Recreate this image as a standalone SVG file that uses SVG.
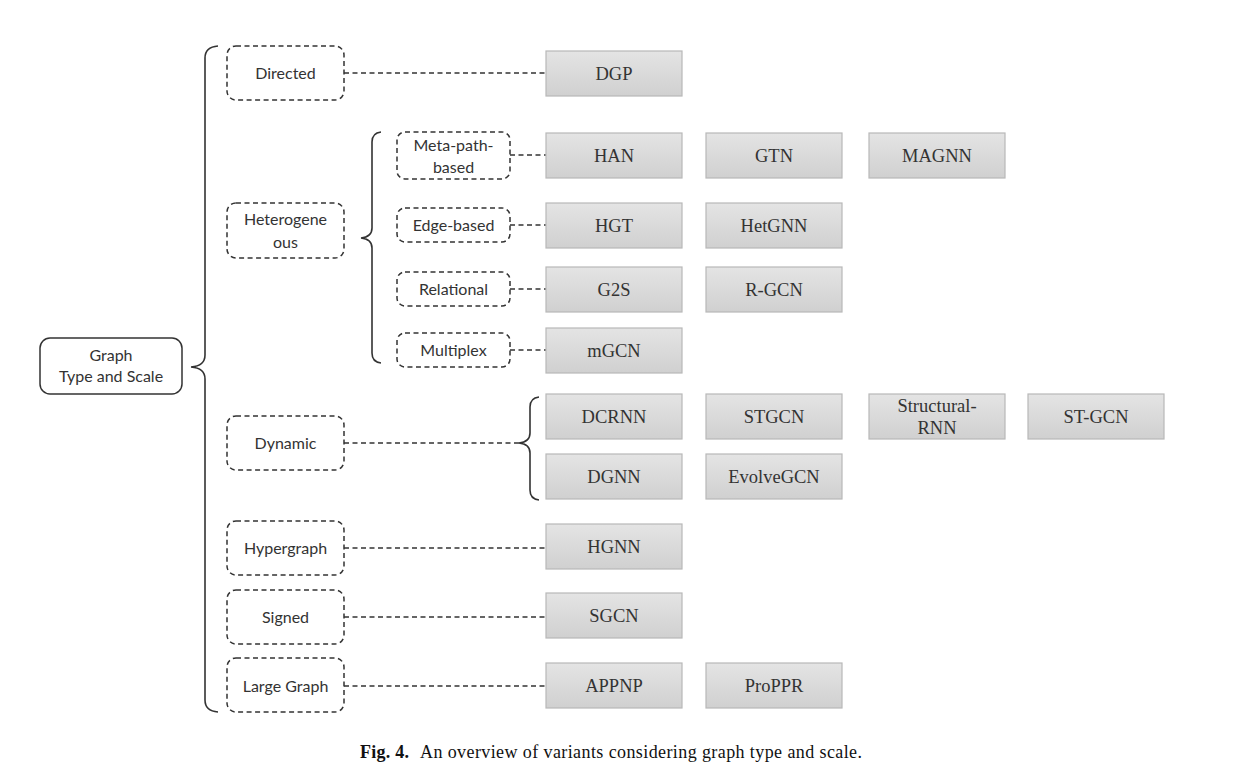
<svg xmlns="http://www.w3.org/2000/svg" width="1251" height="782" viewBox="0 0 1251 782">
<defs>
<linearGradient id="g" x1="0" y1="0" x2="0" y2="1">
<stop offset="0" stop-color="#e4e4e4"/>
<stop offset="1" stop-color="#d0d0d0"/>
</linearGradient>
<style>
.cat{fill:#fff;stroke:#333;stroke-width:1.5;stroke-dasharray:5,3.5}
.box{fill:url(#g);stroke:#b8b8b8;stroke-width:1.2}
.t1{font-family:Lato,"Open Sans","Liberation Sans",sans-serif;font-size:16px;fill:#333;text-anchor:middle}
.t2{font-family:"Liberation Serif",serif;font-size:18.5px;fill:#333;text-anchor:middle}
.conn{fill:none;stroke:#333;stroke-width:1.5;stroke-dasharray:5,3.5}
.brace{fill:none;stroke:#333;stroke-width:1.6}
.cap{font-family:"Liberation Serif",serif;font-size:18px;fill:#111}
</style>
</defs>
<rect width="1251" height="782" fill="#fff"/>

<g id="root">
<rect x="40" y="338" width="142" height="56" rx="10" fill="#fff" stroke="#333" stroke-width="1.5"/>
<text class="t1" x="111" y="361">Graph</text>
<text class="t1" x="111" y="382">Type and Scale</text>
</g>

<g id="braces">
<path class="brace" d="M218,46 Q205,47 205,58 L205,355 Q205,366 191,367 Q205,368 205,379 L205,700 Q205,711 218,712"/>
<path class="brace" d="M381,132 Q372,133 372,142 L372,228 Q372,237 361,238 Q372,239 372,248 L372,353 Q372,362 381,363"/>
<path class="brace" d="M539,397 Q530,398 530,407 L530,433 Q530,442 519,443 Q530,444 530,453 L530,490 Q530,499 539,500"/>
</g>

<g id="connectors">
<path class="conn" d="M344,73 H546"/>
<path class="conn" d="M510,155 H546"/>
<path class="conn" d="M510,225 H546"/>
<path class="conn" d="M510,289 H546"/>
<path class="conn" d="M510,350 H546"/>
<path class="conn" d="M344,443 H519"/>
<path class="conn" d="M344,548 H546"/>
<path class="conn" d="M344,617 H546"/>
<path class="conn" d="M344,686 H546"/>
</g>

<g id="directed"><rect class="cat" x="227" y="46" width="117" height="54" rx="9"/><text class="t1" x="285.5" y="79">Directed</text></g>
<g id="heterogeneous"><rect class="cat" x="227" y="203" width="117" height="55" rx="9"/><text class="t1" x="285.5" y="225">Heterogene</text><text class="t1" x="285.5" y="248">ous</text></g>
<g id="dynamic"><rect class="cat" x="227" y="416" width="117" height="54" rx="9"/><text class="t1" x="285.5" y="449">Dynamic</text></g>
<g id="hypergraph"><rect class="cat" x="227" y="521" width="117" height="54" rx="9"/><text class="t1" x="285.5" y="554">Hypergraph</text></g>
<g id="signed"><rect class="cat" x="227" y="590" width="117" height="54" rx="9"/><text class="t1" x="285.5" y="623">Signed</text></g>
<g id="large"><rect class="cat" x="227" y="658" width="117" height="54" rx="9"/><text class="t1" x="285.5" y="692">Large Graph</text></g>

<g id="metapath"><rect class="cat" x="397" y="132" width="113" height="47" rx="8"/><text class="t1" x="453.5" y="151">Meta-path-</text><text class="t1" x="453.5" y="173">based</text></g>
<g id="edgebased"><rect class="cat" x="397" y="208" width="113" height="34" rx="8"/><text class="t1" x="453.5" y="231">Edge-based</text></g>
<g id="relational"><rect class="cat" x="397" y="272" width="113" height="34" rx="8"/><text class="t1" x="453.5" y="295">Relational</text></g>
<g id="multiplex"><rect class="cat" x="397" y="333" width="113" height="34" rx="8"/><text class="t1" x="453.5" y="356">Multiplex</text></g>

<g id="DGP"><rect class="box" x="546" y="51" width="136" height="45"/><text class="t2" x="614" y="80">DGP</text></g>
<g id="HAN"><rect class="box" x="546" y="133" width="136" height="45"/><text class="t2" x="614" y="162">HAN</text></g>
<g id="GTN"><rect class="box" x="706" y="133" width="136" height="45"/><text class="t2" x="774" y="162">GTN</text></g>
<g id="MAGNN"><rect class="box" x="869" y="133" width="136" height="45"/><text class="t2" x="937" y="162">MAGNN</text></g>
<g id="HGT"><rect class="box" x="546" y="203" width="136" height="45"/><text class="t2" x="614" y="232">HGT</text></g>
<g id="HetGNN"><rect class="box" x="706" y="203" width="136" height="45"/><text class="t2" x="774" y="232">HetGNN</text></g>
<g id="G2S"><rect class="box" x="546" y="267" width="136" height="45"/><text class="t2" x="614" y="296">G2S</text></g>
<g id="RGCN"><rect class="box" x="706" y="267" width="136" height="45"/><text class="t2" x="774" y="296">R-GCN</text></g>
<g id="mGCN"><rect class="box" x="546" y="328" width="136" height="45"/><text class="t2" x="614" y="357">mGCN</text></g>
<g id="DCRNN"><rect class="box" x="546" y="394" width="136" height="45"/><text class="t2" x="614" y="423">DCRNN</text></g>
<g id="STGCN"><rect class="box" x="706" y="394" width="136" height="45"/><text class="t2" x="774" y="423">STGCN</text></g>
<g id="StructuralRNN"><rect class="box" x="869" y="394" width="136" height="45"/><text class="t2" x="937" y="412">Structural-</text><text class="t2" x="937" y="434">RNN</text></g>
<g id="ST-GCN"><rect class="box" x="1028" y="394" width="136" height="45"/><text class="t2" x="1096" y="423">ST-GCN</text></g>
<g id="DGNN"><rect class="box" x="546" y="454" width="136" height="45"/><text class="t2" x="614" y="483">DGNN</text></g>
<g id="EvolveGCN"><rect class="box" x="706" y="454" width="136" height="45"/><text class="t2" x="774" y="483">EvolveGCN</text></g>
<g id="HGNN"><rect class="box" x="546" y="524" width="136" height="45"/><text class="t2" x="614" y="553">HGNN</text></g>
<g id="SGCN"><rect class="box" x="546" y="593" width="136" height="45"/><text class="t2" x="614" y="622">SGCN</text></g>
<g id="APPNP"><rect class="box" x="546" y="663" width="136" height="45"/><text class="t2" x="614" y="692">APPNP</text></g>
<g id="ProPPR"><rect class="box" x="706" y="663" width="136" height="45"/><text class="t2" x="774" y="692">ProPPR</text></g>

<g id="caption">
<text class="cap" x="360" y="758" font-weight="bold" textLength="49" lengthAdjust="spacing">Fig. 4.</text>
<text class="cap" x="420" y="758" textLength="442" lengthAdjust="spacing">An overview of variants considering graph type and scale.</text>
</g>
</svg>
